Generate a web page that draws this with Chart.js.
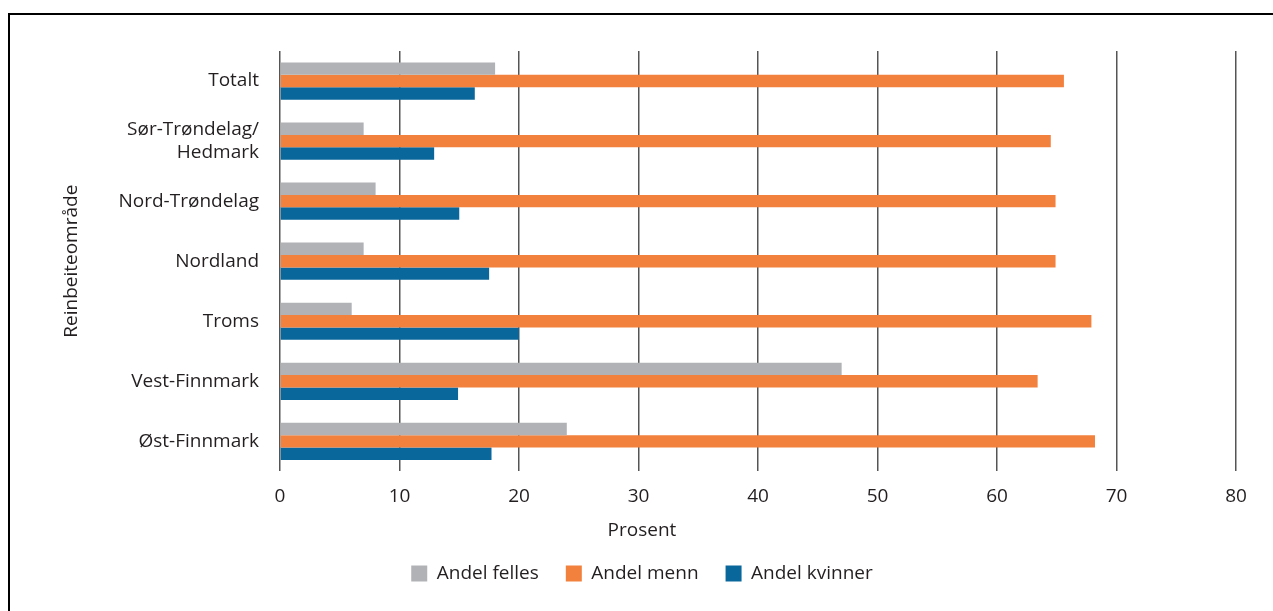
<!DOCTYPE html>
<html lang="no">

<head>
    <meta charset="UTF-8">
    <title>Andel rein etter eierskap</title>
    <script src="https://cdn.jsdelivr.net/npm/chart.js@4.4.1/dist/chart.umd.min.js"></script>
    <style>
        html, body { margin: 0; padding: 0; background: #fff; }
        #wrap { position: relative; width: 1273px; height: 611px; }
    </style>
</head>

<body>
    <div id="wrap"><canvas id="reinChart"></canvas></div>
    <script>
        // Reinbeiteområder (top to bottom)
        const omrader = ['Totalt', ['Sør-Trøndelag/', 'Hedmark'], 'Nord-Trøndelag', 'Nordland', 'Troms', 'Vest-Finnmark', 'Øst-Finnmark'];

        // Prosent
        const andelFelles = [18, 7, 8, 7, 6, 47, 24];
        const andelMenn = [65.6, 64.5, 64.9, 64.9, 67.9, 63.4, 68.2];
        const andelKvinner = [16.3, 12.9, 15, 17.5, 20, 14.9, 17.7];

        const xTicks = [0, 10, 20, 30, 40, 50, 60, 70, 80];

        const textColor = '#231f20';
        const fontFamily = '"Open Sans", sans-serif';
        const fontSize = 19;

        // thin black frame, top and left side only
        const framePlugin = {
            id: 'frame',
            afterDraw(chart) {
                const c = chart.ctx;
                c.save();
                c.strokeStyle = '#000';
                c.lineWidth = 2;
                c.beginPath();
                c.moveTo(9, 611);
                c.lineTo(9, 14);
                c.lineTo(1273, 14);
                c.stroke();
                c.restore();
            }
        };

        const config = {
            type: 'bar',
            data: {
                labels: omrader,
                datasets: [
                    { label: 'Andel felles', data: andelFelles, backgroundColor: '#b1b2b5' },
                    { label: 'Andel menn', data: andelMenn, backgroundColor: '#f3813e' },
                    { label: 'Andel kvinner', data: andelKvinner, backgroundColor: '#0a679b' }
                ]
            },
            options: {
                indexAxis: 'y',
                responsive: false,
                animation: false,
                categoryPercentage: 0.62,
                barPercentage: 1,
                layout: {
                    padding: { left: 48, right: 37, top: 51, bottom: 18 }
                },
                scales: {
                    x: {
                        min: 0,
                        max: 80,
                        afterBuildTicks: axis => { axis.ticks = xTicks.map(v => ({ value: v })); },
                        grid: { color: '#555', lineWidth: 1.5, drawTicks: false },
                        border: { display: false },
                        ticks: { color: textColor, padding: 14, font: { family: fontFamily, size: fontSize } }
                    },
                    y: {
                        afterFit: axis => { axis.width = 232; },
                        grid: { display: false },
                        border: { display: false },
                        ticks: { color: textColor, padding: 13, font: { family: fontFamily, size: fontSize } },
                        title: {
                            display: true,
                            text: 'Reinbeiteområde',
                            color: textColor,
                            padding: { top: 12, bottom: 4 },
                            font: { family: fontFamily, size: fontSize }
                        }
                    }
                },
                plugins: {
                    title: {
                        display: true,
                        position: 'bottom',
                        weight: 500,
                        text: 'Prosent',
                        color: textColor,
                        padding: { top: -3, bottom: -5 },
                        font: { family: fontFamily, size: fontSize, weight: 'normal' }
                    },
                    legend: {
                        position: 'bottom',
                        labels: {
                            color: textColor,
                            boxWidth: 16,
                            boxHeight: 16,
                            padding: 27,
                            font: { family: fontFamily, size: fontSize }
                        }
                    },
                    tooltip: { enabled: false }
                }
            },
            plugins: [framePlugin]
        };

        const canvas = document.getElementById('reinChart');
        canvas.width = 1273;
        canvas.height = 611;
        const reinChart = new Chart(canvas.getContext('2d'), config);
    </script>
</body>

</html>
